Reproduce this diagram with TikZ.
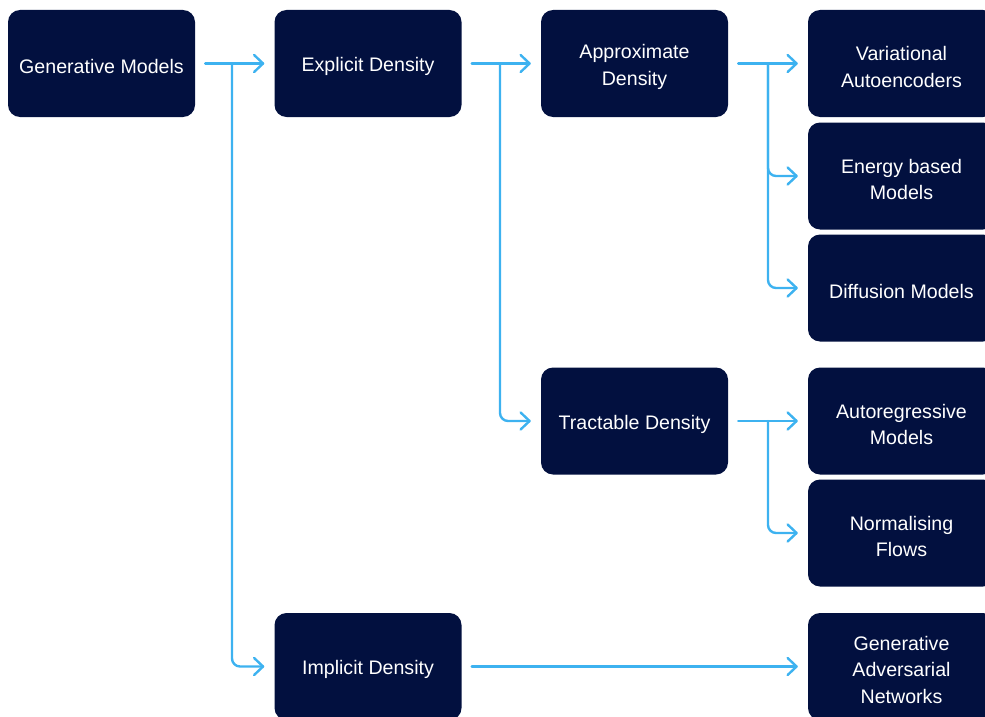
\documentclass[tikz,border=0pt]{standalone}
\usepackage{fontspec}
\setmainfont{Liberation Sans}
\usetikzlibrary{arrows.meta}
\definecolor{navy}{HTML}{02103F}
\definecolor{skyb}{HTML}{3DB2F0}
\newcommand\tpstrut{\rule{0pt}{21pt}}
\tikzset{
  box/.style={fill=navy, rounded corners=12pt, minimum width=187pt, minimum height=107pt,
    text=white, align=center, inner sep=0pt, font=\fontsize{19.6pt}{26.6pt}\selectfont},
  conn/.style={draw=skyb, line width=2.4pt, rounded corners=8pt, line cap=round, line join=round},
  tip/.style={-{Straight Barb[length=9pt,width=17pt,line cap=round,line join=round]}}
}
\begin{document}
\begin{tikzpicture}[x=1pt,y=-1pt]
\useasboundingbox (0,0) rectangle (985,717);
\node[box] (gm) at (101.5,63.5) {\tpstrut Generative Models};
\node[box] (ed) at (368,63.5) {\tpstrut Explicit Density};
\node[box] (ad) at (634.5,63.5) {\tpstrut Approximate\\Density};
\node[box] (td) at (634.5,421) {\tpstrut Tractable Density};
\node[box] (id) at (368,666.5) {\tpstrut Implicit Density};
\node[box] (vae) at (901.5,63.5) {\tpstrut Variational\\Autoencoders};
\node[box] (ebm) at (901.5,176) {\tpstrut Energy based\\Models};
\node[box] (dm) at (901.5,288) {\tpstrut Diffusion Models};
\node[box] (ar) at (901.5,421) {\tpstrut Autoregressive\\Models};
\node[box] (nf) at (901.5,533) {\tpstrut Normalising\\Flows};
\node[box] (gan) at (901.5,666.5) {\tpstrut Generative\\Adversarial\\Networks};
% junctions
\coordinate (j1) at (232,63.5);
\coordinate (j2) at (500,63.5);
\coordinate (j3) at (768,63.5);
\coordinate (j4) at (768,421);
% connectors
\draw[conn,tip] ([xshift=10pt]gm.east) -- ([xshift=-10pt]ed.west);
\draw[conn,tip] (j1) |- ([xshift=-10pt]id.west);
\draw[conn,tip] ([xshift=10pt]ed.east) -- ([xshift=-10pt]ad.west);
\draw[conn,tip] (j2) |- ([xshift=-10pt]td.west);
\draw[conn,tip] ([xshift=10pt]ad.east) -- ([xshift=-10pt]vae.west);
\draw[conn,tip] (j3) |- ([xshift=-10pt]ebm.west);
\draw[conn,tip] (j3) |- ([xshift=-10pt]dm.west);
\draw[conn,tip] ([xshift=10pt]td.east) -- ([xshift=-10pt]ar.west);
\draw[conn,tip] (j4) |- ([xshift=-10pt]nf.west);
\draw[conn,tip] ([xshift=10pt]id.east) -- ([xshift=-10pt]gan.west);
\end{tikzpicture}
\end{document}
